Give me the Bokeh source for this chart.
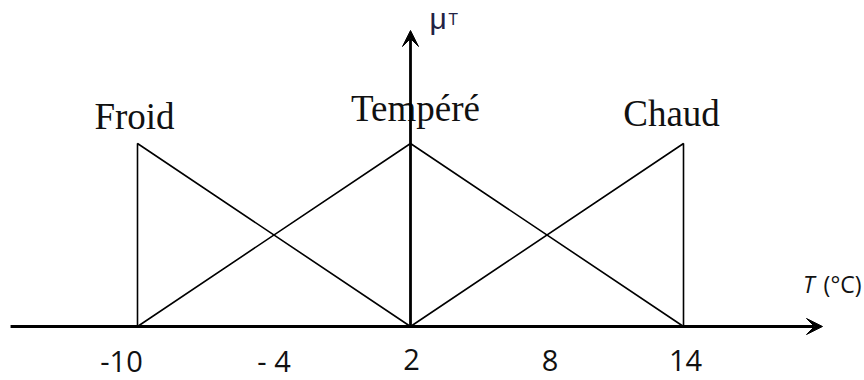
from bokeh.plotting import figure
from bokeh.models import Range1d, Arrow, VeeHead, ColumnDataSource
from bokeh.core.properties import value
from bokeh.embed import file_html
from bokeh.resources import INLINE

# ---- data ----
froid_x = [-10, -10, 2]
froid_y = [0, 1, 0]
tempere_x = [-10, 2, 14]
tempere_y = [0, 1, 0]
chaud_x = [2, 14, 14]
chaud_y = [0, 1, 0]

set_names = ["Froid", "Tempéré", "Chaud"]
set_peaks = [-10, 2, 14]
set_peak_mu = [1, 1, 1]

tick_values = [-10, -4, 2, 8, 14]
tick_labels = ["-10", "- 4", "2", "8", "14"]

# ---- styles / layout ----
W, H = 864, 380
XMIN, XMAX = -16.022, 21.956
YMIN, YMAX = -0.2951, 1.7814
AXIS_X_START, AXIS_X_END = -15.58, 20.11
AXIS_Y_END = 1.6175

p = figure(width=W, height=H, x_range=Range1d(XMIN, XMAX), y_range=Range1d(YMIN, YMAX),
           x_axis_type=None, y_axis_type=None, toolbar_location=None,
           output_backend="svg", min_border=0, outline_line_color=None)
p.grid.visible = False
p.background_fill_color = "white"
p.border_fill_color = "white"

for xs, ys in [(froid_x, froid_y), (tempere_x, tempere_y), (chaud_x, chaud_y)]:
    p.line(xs, ys, line_color="black", line_width=1.6)

# axes as arrows
p.add_layout(Arrow(end=VeeHead(size=16, fill_color="black", line_color="black", line_width=1),
                   x_start=AXIS_X_START, y_start=0, x_end=AXIS_X_END, y_end=0,
                   line_color="black", line_width=2.8))
p.add_layout(Arrow(end=VeeHead(size=16, fill_color="black", line_color="black", line_width=1),
                   x_start=2, y_start=0, x_end=2, y_end=AXIS_Y_END,
                   line_color="black", line_width=2.8))

# set labels
lab_src = ColumnDataSource(dict(x=set_peaks, y=set_peak_mu, t=set_names,
                                xo=[-3, 5, -12], yo=[-27, -35, -30]))
p.text(x="x", y="y", text="t", x_offset="xo", y_offset="yo", source=lab_src,
       text_font=value("Liberation Serif"), text_font_size="37px",
       text_align="center", text_baseline="alphabetic", text_color="#111111")

# tick labels
tick_src = ColumnDataSource(dict(x=tick_values, y=[0] * len(tick_values), t=tick_labels,
                                 xo=[-16, 0, 1, 3, 2], yo=[35, 34, 33, 34, 34]))
p.text(x="x", y="y", text="t", x_offset="xo", y_offset="yo", source=tick_src,
       text_font=value("Open Sans"), text_font_size="29px",
       text_align="center", text_baseline="alphabetic", text_color="#111111")

# mu_T label
p.text(x=[2], y=[AXIS_Y_END], text=["μ"], x_offset=19, y_offset=-12,
       text_font=value("Liberation Sans"), text_font_size="30px",
       text_align="left", text_baseline="alphabetic", text_color="#222244")
p.text(x=[2], y=[AXIS_Y_END], text=["T"], x_offset=38, y_offset=-12,
       text_font=value("Open Sans"), text_font_size="17px",
       text_align="left", text_baseline="alphabetic", text_color="#222244")

# T (°C) label
p.text(x=[XMAX], y=[0], text=["(°C)"], x_offset=-3, y_offset=-42,
       text_font=value("Open Sans"), text_font_size="23px",
       text_align="right", text_baseline="alphabetic", text_color="#111111")
p.text(x=[XMAX], y=[0], text=["T"], x_offset=-50, y_offset=-42,
       text_font=value("Open Sans"), text_font_size="23px", text_font_style="italic",
       text_align="right", text_baseline="alphabetic", text_color="#111111")

open("out.html", "w").write(file_html(p, INLINE))
